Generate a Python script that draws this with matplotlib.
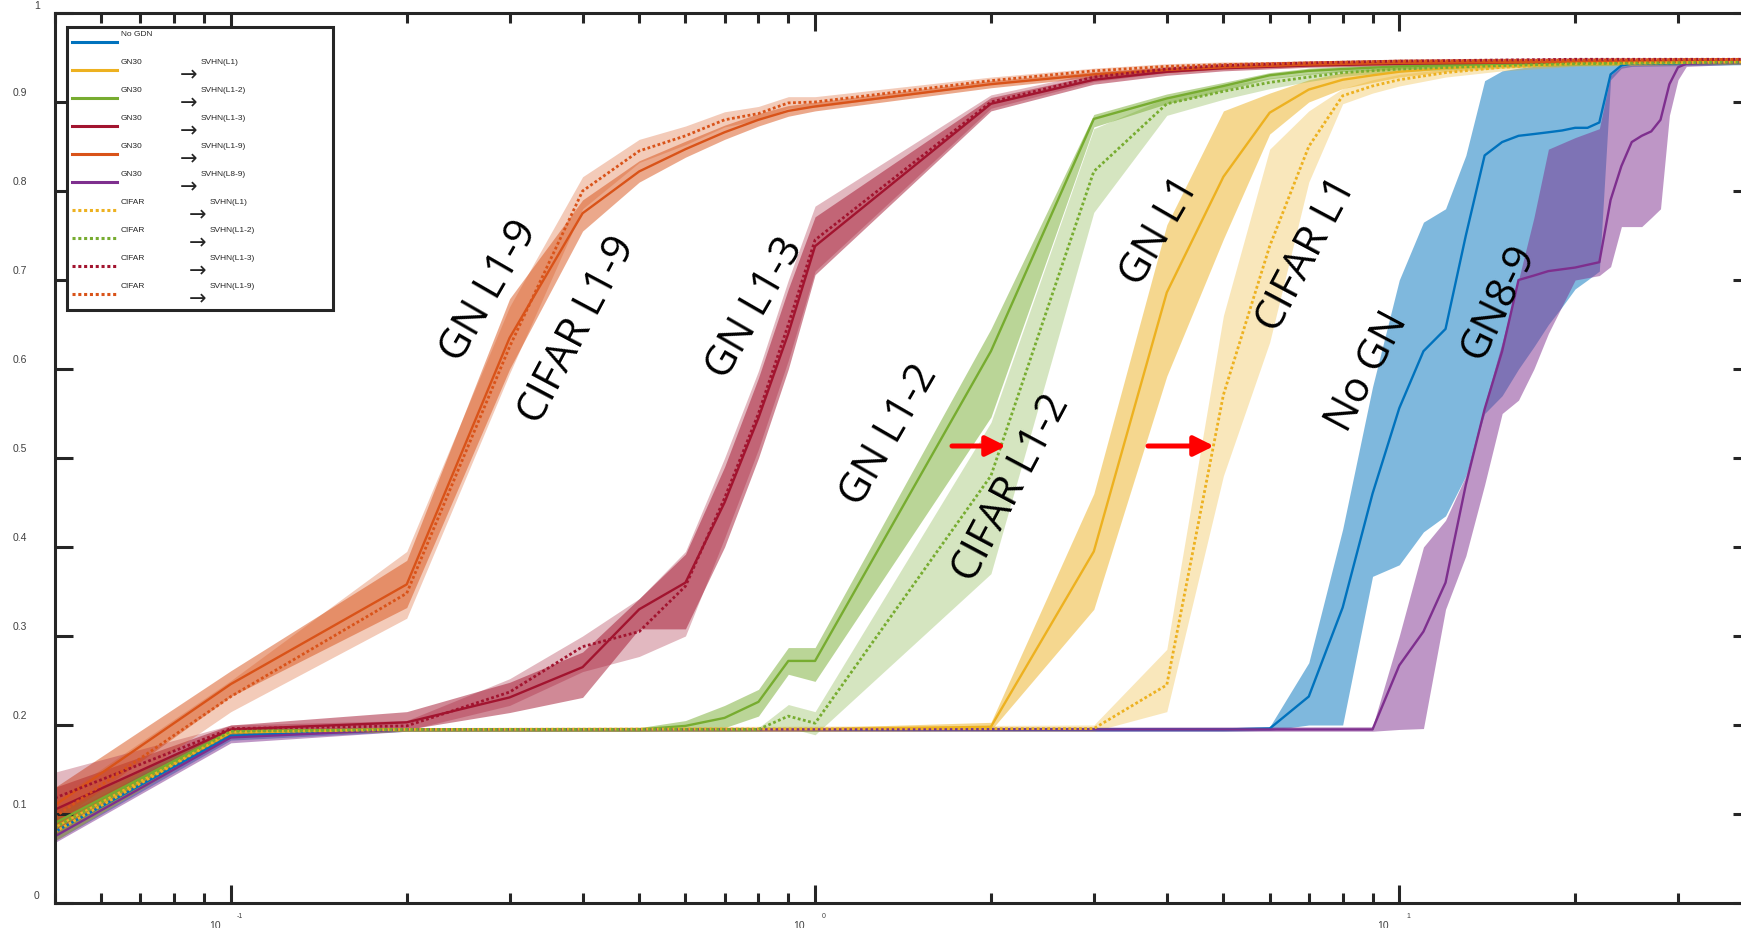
import numpy as np
import matplotlib
matplotlib.use('Agg')
import matplotlib.pyplot as plt
from matplotlib.transforms import offset_copy
from matplotlib.patches import Rectangle, FancyArrowPatch
from matplotlib.lines import Line2D
from matplotlib.ticker import NullLocator

# ---- data (x = log axis, y = accuracy) ----
# No GDN (blue)
nogdn_x = [0.05, 0.1, 0.2, 5, 6, 7, 8, 9, 10, 11, 12, 13, 14, 15, 16, 17, 18, 19, 20, 21, 22, 23, 24, 25, 40]
nogdn_mean = [0.080, 0.188, 0.195, 0.195, 0.196, 0.232, 0.332, 0.460, 0.556, 0.620, 0.645, 0.750, 0.840, 0.855,
              0.862, 0.864, 0.866, 0.868, 0.871, 0.871, 0.877, 0.931, 0.941, 0.943, 0.944]
nogdn_lo = [0.070, 0.183, 0.193, 0.193, 0.194, 0.200, 0.200, 0.367, 0.380, 0.417, 0.435, 0.480, 0.550, 0.570,
            0.600, 0.625, 0.650, 0.670, 0.690, 0.700, 0.710, 0.925, 0.938, 0.940, 0.942]
nogdn_hi = [0.090, 0.193, 0.197, 0.197, 0.198, 0.270, 0.420, 0.580, 0.700, 0.765, 0.780, 0.840, 0.924, 0.935,
            0.938, 0.940, 0.941, 0.942, 0.942, 0.943, 0.943, 0.945, 0.946, 0.946, 0.946]

# GN30 -> SVHN(L1) (yellow, solid)
gn_l1_x = [0.05, 0.1, 0.2, 1, 2, 3, 4, 5, 6, 7, 8, 9, 10, 12, 15, 20, 40]
gn_l1_mean = [0.085, 0.192, 0.195, 0.195, 0.198, 0.395, 0.686, 0.816, 0.888, 0.914, 0.925, 0.930, 0.934, 0.938,
              0.941, 0.943, 0.945]
gn_l1_lo = [0.075, 0.188, 0.193, 0.193, 0.194, 0.330, 0.592, 0.746, 0.864, 0.900, 0.915, 0.922, 0.928, 0.934,
            0.938, 0.941, 0.943]
gn_l1_hi = [0.095, 0.195, 0.197, 0.197, 0.203, 0.460, 0.762, 0.890, 0.910, 0.925, 0.933, 0.937, 0.940, 0.942,
            0.944, 0.945, 0.947]

# GN30 -> SVHN(L1-2) (green, solid)
gn_l12_x = [0.05, 0.1, 0.2, 0.5, 0.6, 0.7, 0.8, 0.9, 1, 2, 3, 4, 5, 6, 7, 8, 10, 15, 20, 40]
gn_l12_mean = [0.090, 0.193, 0.195, 0.195, 0.199, 0.208, 0.226, 0.272, 0.272, 0.620, 0.881, 0.904, 0.918, 0.930,
               0.935, 0.937, 0.940, 0.943, 0.944, 0.945]
gn_l12_lo = [0.075, 0.188, 0.193, 0.193, 0.195, 0.197, 0.210, 0.257, 0.249, 0.546, 0.872, 0.898, 0.913, 0.926,
             0.931, 0.934, 0.937, 0.941, 0.942, 0.943]
gn_l12_hi = [0.105, 0.196, 0.197, 0.197, 0.205, 0.222, 0.240, 0.287, 0.287, 0.645, 0.886, 0.909, 0.922, 0.933,
             0.938, 0.940, 0.942, 0.945, 0.946, 0.947]

# GN30 -> SVHN(L1-3) (dark red, solid)
gn_l13_x = [0.05, 0.1, 0.2, 0.3, 0.4, 0.5, 0.6, 0.7, 0.8, 0.9, 1, 2, 3, 4, 5, 7, 10, 20, 40]
gn_l13_mean = [0.105, 0.195, 0.203, 0.231, 0.265, 0.330, 0.360, 0.450, 0.545, 0.640, 0.738, 0.898, 0.925, 0.934,
               0.938, 0.941, 0.943, 0.945, 0.946]
gn_l13_lo = [0.080, 0.190, 0.195, 0.214, 0.231, 0.308, 0.308, 0.400, 0.500, 0.600, 0.706, 0.890, 0.920, 0.930,
             0.935, 0.939, 0.941, 0.943, 0.944]
gn_l13_hi = [0.130, 0.200, 0.215, 0.248, 0.282, 0.342, 0.392, 0.490, 0.590, 0.690, 0.771, 0.905, 0.930, 0.938,
             0.941, 0.943, 0.945, 0.947, 0.948]

# GN30 -> SVHN(L1-9) (orange, solid)
gn_l19_x = [0.05, 0.1, 0.2, 0.3, 0.4, 0.5, 0.6, 0.7, 0.8, 0.9, 1, 2, 3, 4, 5, 7, 10, 20, 40]
gn_l19_mean = [0.110, 0.246, 0.358, 0.635, 0.775, 0.822, 0.847, 0.866, 0.880, 0.890, 0.895, 0.920, 0.931, 0.936,
               0.939, 0.942, 0.944, 0.945, 0.946]
gn_l19_lo = [0.090, 0.232, 0.332, 0.600, 0.755, 0.810, 0.838, 0.858, 0.873, 0.884, 0.890, 0.916, 0.928, 0.933,
             0.937, 0.940, 0.942, 0.943, 0.944]
gn_l19_hi = [0.130, 0.261, 0.385, 0.679, 0.790, 0.834, 0.856, 0.874, 0.887, 0.896, 0.900, 0.924, 0.934, 0.939,
             0.941, 0.944, 0.946, 0.947, 0.948]

# GN30 -> SVHN(L8-9) (purple, solid)
gn_l89_x = [0.05, 0.1, 0.2, 9, 10, 11, 12, 13, 14, 15, 16, 17, 18, 20, 22, 23, 24, 25, 26, 27, 28, 29, 30, 31, 40]
gn_l89_mean = [0.075, 0.186, 0.195, 0.195, 0.267, 0.305, 0.360, 0.470, 0.555, 0.620, 0.700, 0.705, 0.710, 0.714,
               0.720, 0.790, 0.828, 0.855, 0.862, 0.867, 0.880, 0.920, 0.939, 0.943, 0.945]
gn_l89_lo = [0.068, 0.180, 0.193, 0.193, 0.195, 0.196, 0.330, 0.390, 0.470, 0.550, 0.565, 0.600, 0.640, 0.700,
             0.705, 0.715, 0.760, 0.760, 0.760, 0.770, 0.780, 0.885, 0.925, 0.940, 0.943]
gn_l89_hi = [0.085, 0.192, 0.197, 0.198, 0.300, 0.400, 0.430, 0.480, 0.560, 0.630, 0.700, 0.770, 0.847, 0.860,
             0.870, 0.930, 0.940, 0.942, 0.943, 0.944, 0.945, 0.946, 0.946, 0.946, 0.947]

# CIFAR -> SVHN(L1) (yellow, dotted)
cf_l1_x = [0.05, 0.1, 0.2, 3, 4, 5, 6, 7, 8, 9, 10, 12, 15, 20, 40]
cf_l1_mean = [0.080, 0.192, 0.195, 0.196, 0.245, 0.571, 0.738, 0.850, 0.907, 0.918, 0.925, 0.933, 0.939, 0.943, 0.945]
cf_l1_lo = [0.070, 0.188, 0.193, 0.193, 0.215, 0.480, 0.630, 0.810, 0.898, 0.910, 0.918, 0.928, 0.935, 0.940, 0.943]
cf_l1_hi = [0.090, 0.195, 0.197, 0.200, 0.285, 0.660, 0.847, 0.890, 0.915, 0.925, 0.931, 0.937, 0.942, 0.945, 0.947]

# CIFAR -> SVHN(L1-2) (green, dotted)
cf_l12_x = [0.05, 0.1, 0.2, 0.8, 0.9, 1, 2, 3, 4, 5, 6, 7, 8, 10, 15, 20, 40]
cf_l12_mean = [0.085, 0.193, 0.195, 0.195, 0.210, 0.202, 0.480, 0.822, 0.898, 0.912, 0.922, 0.928, 0.933, 0.937,
               0.941, 0.943, 0.945]
cf_l12_lo = [0.070, 0.188, 0.193, 0.193, 0.197, 0.189, 0.370, 0.776, 0.885, 0.903, 0.915, 0.923, 0.929, 0.934,
             0.939, 0.941, 0.943]
cf_l12_hi = [0.100, 0.196, 0.197, 0.197, 0.223, 0.215, 0.540, 0.870, 0.905, 0.918, 0.927, 0.932, 0.936, 0.940,
             0.943, 0.945, 0.947]

# CIFAR -> SVHN(L1-3) (dark red, dotted)
cf_l13_x = [0.05, 0.1, 0.2, 0.3, 0.4, 0.5, 0.6, 0.7, 0.8, 0.9, 1, 2, 3, 4, 5, 7, 10, 20, 40]
cf_l13_mean = [0.118, 0.196, 0.199, 0.237, 0.288, 0.305, 0.356, 0.455, 0.550, 0.650, 0.745, 0.900, 0.928, 0.937,
               0.941, 0.944, 0.946, 0.948, 0.948]
cf_l13_lo = [0.090, 0.192, 0.194, 0.222, 0.260, 0.277, 0.300, 0.410, 0.510, 0.610, 0.710, 0.893, 0.923, 0.933,
             0.938, 0.941, 0.944, 0.946, 0.946]
cf_l13_hi = [0.147, 0.200, 0.205, 0.252, 0.300, 0.342, 0.395, 0.500, 0.598, 0.700, 0.783, 0.908, 0.933, 0.940,
             0.944, 0.946, 0.948, 0.950, 0.950]

# CIFAR -> SVHN(L1-9) (orange, dotted)
cf_l19_x = [0.05, 0.1, 0.2, 0.3, 0.4, 0.5, 0.6, 0.7, 0.8, 0.9, 1, 2, 3, 4, 5, 7, 10, 20, 40]
cf_l19_mean = [0.097, 0.232, 0.348, 0.625, 0.800, 0.845, 0.862, 0.880, 0.887, 0.899, 0.900, 0.924, 0.935, 0.940,
               0.942, 0.944, 0.946, 0.947, 0.948]
cf_l19_lo = [0.080, 0.215, 0.320, 0.595, 0.780, 0.832, 0.852, 0.872, 0.880, 0.893, 0.894, 0.920, 0.932, 0.937,
             0.940, 0.942, 0.944, 0.945, 0.946]
cf_l19_hi = [0.115, 0.250, 0.395, 0.670, 0.816, 0.858, 0.873, 0.889, 0.895, 0.906, 0.906, 0.928, 0.938, 0.943,
             0.945, 0.946, 0.948, 0.949, 0.950]

legend_left = ['No GDN', 'GN30', 'GN30', 'GN30', 'GN30', 'GN30', 'CIFAR', 'CIFAR', 'CIFAR', 'CIFAR']
legend_right = [None, 'SVHN(L1)', 'SVHN(L1-2)', 'SVHN(L1-3)', 'SVHN(L1-9)', 'SVHN(L8-9)',
                'SVHN(L1)', 'SVHN(L1-2)', 'SVHN(L1-3)', 'SVHN(L1-9)']

# MATLAB default colours
BLUE, ORANGE, YELLOW, PURPLE, GREEN, RED = '#0072BD', '#D95319', '#EDB120', '#7E2F8E', '#77AC30', '#A2142F'

series = [
    (nogdn_x, nogdn_mean, nogdn_lo, nogdn_hi, BLUE, '-'),
    (gn_l1_x, gn_l1_mean, gn_l1_lo, gn_l1_hi, YELLOW, '-'),
    (gn_l12_x, gn_l12_mean, gn_l12_lo, gn_l12_hi, GREEN, '-'),
    (gn_l13_x, gn_l13_mean, gn_l13_lo, gn_l13_hi, RED, '-'),
    (gn_l19_x, gn_l19_mean, gn_l19_lo, gn_l19_hi, ORANGE, '-'),
    (gn_l89_x, gn_l89_mean, gn_l89_lo, gn_l89_hi, PURPLE, '-'),
    (cf_l1_x, cf_l1_mean, cf_l1_lo, cf_l1_hi, YELLOW, ':'),
    (cf_l12_x, cf_l12_mean, cf_l12_lo, cf_l12_hi, GREEN, ':'),
    (cf_l13_x, cf_l13_mean, cf_l13_lo, cf_l13_hi, RED, ':'),
    (cf_l19_x, cf_l19_mean, cf_l19_lo, cf_l19_hi, ORANGE, ':'),
]

W, H = 1741, 929
DOT = (0, (1, 0.9))
INK = '#262626'


def fx(px):
    return px / W


def fy(py):
    return 1 - py / H


fig = plt.figure(figsize=(W / 100, H / 100), dpi=100)
# axes runs a bit past the right border, like the cropped original
ax = fig.add_axes([fx(55), fy(904), 1696 / W, 890 / H])

for x, m, lo, hi, c, ls in series:
    a = 0.5 if ls == '-' else 0.3
    ax.fill_between(x, lo, hi, color=c, alpha=a, lw=0)
for x, m, lo, hi, c, ls in series:
    if ls == ':':
        ax.plot(x, m, color=c, lw=2.0, linestyle=DOT)
    else:
        ax.plot(x, m, color=c, lw=1.7)

ax.set_xscale('log')
ax.set_xlim(0.05, 40)
ax.set_ylim(0, 1)
ax.set_yticks(np.arange(0, 1.01, 0.1))
ax.yaxis.set_minor_locator(NullLocator())
ax.tick_params(which='both', direction='in', top=True, right=True,
               labelbottom=False, labelleft=False, width=2.2, color=INK)
ax.tick_params(which='major', length=13)
ax.tick_params(which='minor', length=7.2)
for s in ax.spines.values():
    s.set_linewidth(2.2)
    s.set_color(INK)

# tick labels, placed the way the exported figure shows them
lab_kw = dict(fontsize=7.5, color='#404040', family='Liberation Sans', ha='center', va='center')
for v in np.arange(0, 1.01, 0.1):
    if round(v, 1) in (0.0, 1.0):
        tr = offset_copy(ax.get_yaxis_transform(), fig=fig, x=-18, y=8, units='dots')
        ax.text(0, v, '%d' % round(v), transform=tr, clip_on=False, **lab_kw)
    else:
        tr = offset_copy(ax.get_yaxis_transform(), fig=fig, x=-35, y=10, units='dots')
        ax.text(0, v, '%.1f' % v, transform=tr, clip_on=False, **lab_kw)

for e in (-1, 0, 1):
    tr = offset_copy(ax.get_xaxis_transform(), fig=fig, x=-16, y=-22, units='dots')
    ax.text(10.0 ** e, 0, '10', transform=tr, clip_on=False, **lab_kw)
    tr = offset_copy(ax.get_xaxis_transform(), fig=fig, x=9, y=-13, units='dots')
    ax.text(10.0 ** e, 0, '%d' % e, transform=tr, clip_on=False,
            fontsize=5, color='#404040', family='Liberation Sans', ha='center', va='center')

# curve labels
notes = [
    ('GN L1-9', 489, 291, 60), ('CIFAR L1-9', 577, 330, 62), ('GN L1-3', 755, 308, 60),
    ('GN L1-2', 889, 435, 60), ('CIFAR L1-2', 1011, 488, 62), ('GN L1', 1160, 231, 60),
    ('CIFAR L1', 1307, 255, 62), ('No GN', 1368, 372, 62), ('GN8-9', 1499, 302, 64),
]
for txt, px, py, rot in notes:
    fig.text(fx(px), fy(py), txt, rotation=rot, rotation_mode='anchor', ha='center', va='center',
             fontsize=30, family='Open Sans', color='black')

# red arrows
for x0, x1 in [(952, 1006), (1148, 1214)]:
    fig.add_artist(FancyArrowPatch((fx(x0), fy(447)), (fx(x1), fy(447)), transform=fig.transFigure,
                                   arrowstyle='-|>,head_length=1.2,head_width=0.6', mutation_scale=10,
                                   color='red', lw=3.6, shrinkA=0, shrinkB=0))

# legend box drawn by hand (MATLAB put the arrow on its own line)
fig.add_artist(Rectangle((fx(67), fy(311)), 266 / W, 283 / H, transform=fig.transFigure,
                         facecolor='white', edgecolor=INK, lw=2.2, zorder=5))
leg_kw = dict(fontsize=6, color=INK, family='Liberation Sans', va='center', ha='left', zorder=6)
for i, (s, left, right) in enumerate(zip(series, legend_left, legend_right)):
    yl = 43 + 28 * i
    c, ls = s[4], s[5]
    fig.add_artist(Line2D([fx(72), fx(117)], [fy(yl), fy(yl)], transform=fig.transFigure, color=c,
                          lw=2.2, linestyle=DOT if ls == ':' else '-', zorder=6))
    fig.text(fx(121), fy(yl - 8), left, **leg_kw)
    if right is not None:
        xa = 180 if left == 'GN30' else 189
        fig.text(fx(xa), fy(yl + 4), '→', fontsize=15, color=INK, family='DejaVu Sans',
                 va='center', ha='left', zorder=6)
        fig.text(fx(xa + 21), fy(yl - 8), right, **leg_kw)

fig.savefig('out.png', dpi=100)
